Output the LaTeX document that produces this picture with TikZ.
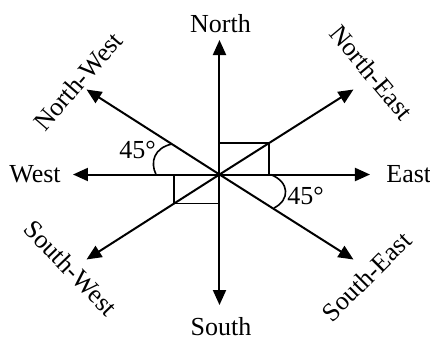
\documentclass[tikz,border=0pt]{standalone}
\usepackage{fontspec}
\setmainfont{Liberation Serif}
\usetikzlibrary{arrows.meta}

\begin{document}
\begin{tikzpicture}[x=0.5pt,y=-0.5pt,>={Triangle[length=7.5pt,width=6.5pt]},
  every node/.style={font=\fontsize{13}{15}\selectfont,inner sep=0pt},
  ray/.style={line width=1pt,->},
  anglemark/.style={line width=0.8pt}]
\useasboundingbox (0,0) rectangle (430,338);
% centre and arrow tips
\coordinate (O) at (219.5,174.5);
\coordinate (N) at (219.5,40);
\coordinate (S) at (219.5,305);
\coordinate (W) at (73,174.5);
\coordinate (E) at (370,174.5);
\coordinate (NE) at (353.5,89.5);
\coordinate (NW) at (86.5,89.5);
\coordinate (SW) at (86.5,259.5);
\coordinate (SE) at (353.5,259.5);
\foreach \d in {N,S,E,W,NE,NW,SE,SW}{\draw[ray] (O) -- (\d);}
% right-angle boxes
\draw[anglemark] (219.5,143) -- (269,143) -- (269,174.5);
\draw[anglemark] (174,174.5) -- (174,203.5) -- (219.5,203.5);
% angle marks
\draw[anglemark] (172,144) .. controls (154,148) and (150,162) .. (156,174.5);
\draw[anglemark] (270.5,174.5) .. controls (290,182) and (290,200) .. (274,208);
% labels
\node[anchor=base] (north) at (220.5,32) {North};
\node[anchor=base] (south) at (221,335) {South};
\node[anchor=base] (west) at (35,182) {West};
\node[anchor=base west] (east) at (386,182) {East};
\node[anchor=base west] (ang1) at (119,158) {45°};
\node[anchor=base west] (ang2) at (287,204) {45°};
\node[rotate=49] (nwl) at (78,81.5) {North-West};
\node[rotate=-50] (nel) at (371.5,72.5) {North-East};
\node[rotate=-46] (swl) at (71,268) {South-West};
\node[rotate=45] (sel) at (366.5,276.5) {South-East};
\end{tikzpicture}
\end{document}
